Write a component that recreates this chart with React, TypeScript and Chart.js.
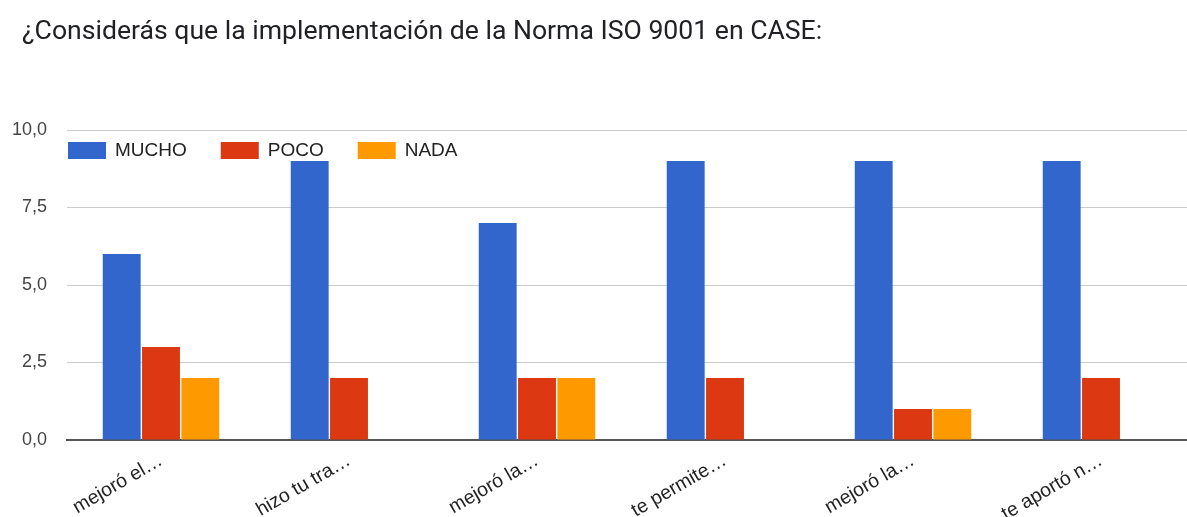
import React, { useEffect, useRef } from "react";
import { Chart, registerables } from "chart.js";

Chart.register(...registerables);

const TITLE = "¿Considerás que la implementación de la Norma ISO 9001 en CASE:";
const categories = ["mejoró el…", "hizo tu tra…", "mejoró la…", "te permite…", "mejoró la…", "te aportó n…"];
const mucho = [6, 9, 7, 9, 9, 9];
const poco = [3, 2, 2, 2, 1, 2];
const nada = [2, null, 2, null, 1, null];
const yTicks = [0, 2.5, 5, 7.5, 10];

const seriesNames = ["MUCHO", "POCO", "NADA"];
const seriesColors = ["#3366cc", "#dc3912", "#ff9900"];

const overlayPlugin = {
  id: "overlay",
  afterDraw(chart: any) {
    const ctx = chart.ctx;
    ctx.save();
    // title
    ctx.font = "26.6px Roboto";
    ctx.fillStyle = "#202124";
    ctx.textAlign = "left";
    ctx.textBaseline = "alphabetic";
    ctx.fillText(TITLE, 22, 39);
    // legend
    ctx.font = "19px 'Liberation Sans'";
    ctx.textBaseline = "middle";
    let x = chart.chartArea.left + 1;
    const y = 151;
    chart.data.datasets.forEach((ds: any) => {
      ctx.fillStyle = ds.backgroundColor;
      ctx.fillRect(x, y - 9, 38, 17);
      x += 38 + 9;
      ctx.fillStyle = "#222222";
      ctx.fillText(ds.label, x, y);
      x += ctx.measureText(ds.label).width + 34;
    });
    ctx.restore();
  },
};

export default function App() {
  const ref = useRef<HTMLCanvasElement>(null);
  useEffect(() => {
    const chart = new Chart(ref.current!, {
      type: "bar",
      data: {
        labels: categories,
        datasets: [mucho, poco, nada].map((d, i) => ({
          label: seriesNames[i],
          data: d,
          backgroundColor: seriesColors[i],
          borderWidth: 0,
          categoryPercentage: 0.627,
          barPercentage: 0.965,
        })),
      },
      options: {
        responsive: false,
        animation: false,
        layout: { padding: { top: 130, left: 0, right: 0, bottom: 0 } },
        plugins: {
          legend: { display: false },
          title: { display: false },
          tooltip: { enabled: false },
        },
        scales: {
          x: {
            grid: { display: false },
            border: { display: true, color: "#555555", width: 2 },
            ticks: {
              color: "#222222",
              font: { family: "'Liberation Sans'", size: 19.5 },
              minRotation: 30,
              maxRotation: 30,
              padding: 1,
              labelOffset: 0,
              autoSkip: false,
            },
            afterFit(scale: any) {
              scale.height = 77;
            },
          },
          y: {
            min: 0,
            max: 10,
            afterBuildTicks(scale: any) {
              scale.ticks = yTicks.map((v) => ({ value: v }));
            },
            grid: {
              drawTicks: false,
              color: (c: any) => (c.tick && c.tick.value === 0 ? "rgba(0,0,0,0)" : "#cccccc"),
              lineWidth: 1,
            },
            border: { display: false },
            ticks: {
              color: "#444444",
              font: { family: "'Liberation Sans'", size: 18 },
              padding: 20,
              callback: (v: any) => Number(v).toFixed(1).replace(".", ","),
            },
            afterFit(scale: any) {
              scale.width = 67;
            },
          },
        },
      },
      plugins: [overlayPlugin],
    });
    return () => chart.destroy();
  }, []);
  return (
    <div style={{ position: "fixed", left: 0, top: 0, width: 1187, height: 517, overflow: "hidden", background: "#ffffff" }}>
      <canvas ref={ref} width={1195} height={517} />
    </div>
  );
}
